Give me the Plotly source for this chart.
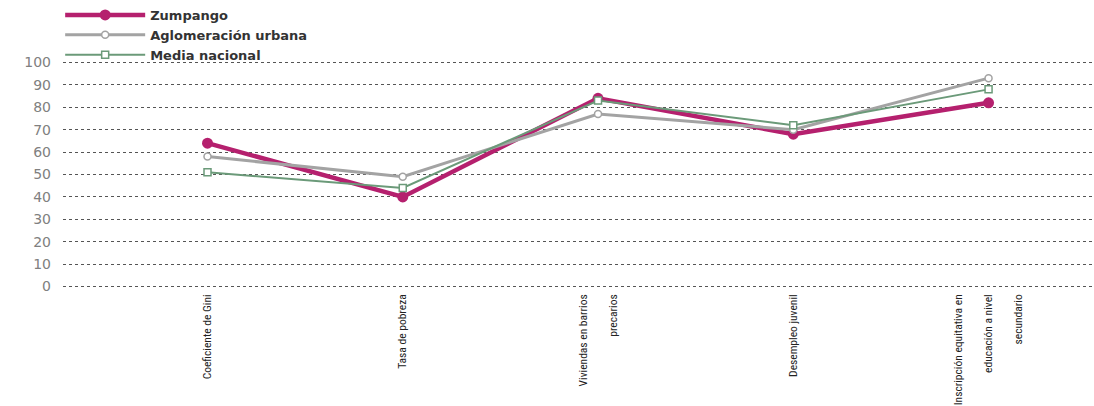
import plotly.graph_objects as go

categories = [
    "Coeficiente de Gini",
    "Tasa de pobreza",
    "Viviendas en barrios<br>precarios",
    "Desempleo juvenil",
    "Inscripción equitativa en<br>educación a nivel<br>secundario",
]
zumpango = [64, 40, 84, 68, 82]
aglomeracion = [58, 49, 77, 70, 93]
media_nacional = [51, 44, 83, 72, 88]
y_ticks = [0, 10, 20, 30, 40, 50, 60, 70, 80, 90, 100]

# wider line spacing for the rotated labels
tick_text = [c.replace("<br>", "<br><br>") for c in categories]

fig = go.Figure()
fig.add_trace(go.Scatter(
    x=categories, y=zumpango, name="Zumpango", mode="lines+markers",
    line=dict(color="#B5206E", width=4.5),
    marker=dict(symbol="circle", size=11, color="#B5206E"),
))
fig.add_trace(go.Scatter(
    x=categories, y=aglomeracion, name="Aglomeración urbana", mode="lines+markers",
    line=dict(color="#A3A3A3", width=3),
    marker=dict(symbol="circle", size=7, color="white", line=dict(color="#A3A3A3", width=1.5)),
))
fig.add_trace(go.Scatter(
    x=categories, y=media_nacional, name="Media nacional", mode="lines+markers",
    line=dict(color="#6B9A79", width=2),
    marker=dict(symbol="square", size=7, color="white", line=dict(color="#6B9A79", width=1.5)),
))

fig.update_layout(
    width=1094, height=406,
    margin=dict(l=63, r=0, t=58, b=115, autoexpand=False),
    paper_bgcolor="white", plot_bgcolor="white",
    showlegend=True,
    legend=dict(
        xref="container", yref="container",
        x=0.055, y=1.012, xanchor="left", yanchor="top",
        orientation="v", itemwidth=80, tracegroupgap=0,
        font=dict(family="DejaVu Sans", size=13, color="#333333", weight="bold"),
        bgcolor="rgba(0,0,0,0)",
    ),
    xaxis=dict(
        type="category", range=[-0.74, 4.54],
        tickvals=categories, ticktext=tick_text,
        showgrid=False, zeroline=False, showline=False, ticks="",
        tickangle=-90,
        tickfont=dict(family="Roboto Condensed, Roboto", size=11.5, color="#222222"),
    ),
    yaxis=dict(
        range=[-2, 102], tickvals=y_ticks,
        showgrid=True, gridcolor="#555555", griddash="dot", gridwidth=1,
        zeroline=False, showline=False, ticks="",
        tickfont=dict(family="DejaVu Sans", size=14, color="#808080"),
        ticklabelstandoff=11,
    ),
)

fig.write_html("out.html", config={"displayModeBar": False},
               post_script="document.body.style.margin='0';")
